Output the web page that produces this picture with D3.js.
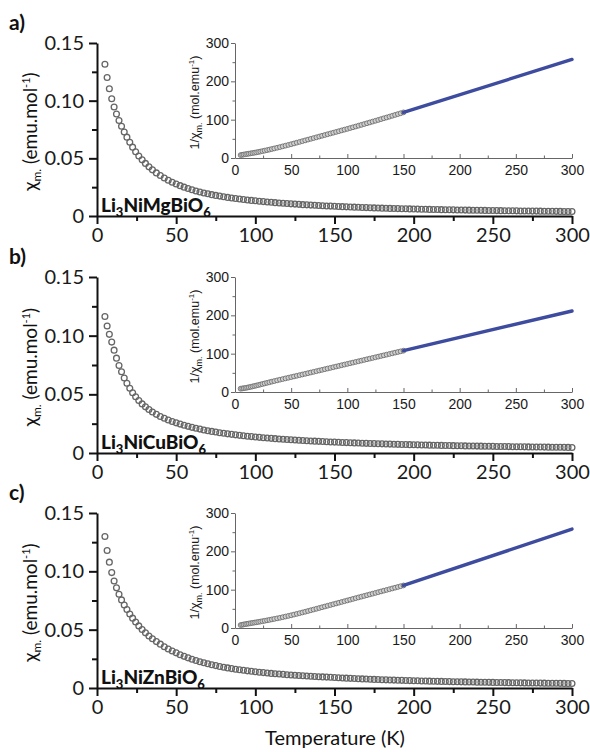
<!DOCTYPE html>
<html><head><meta charset="utf-8">
<script src="https://cdn.jsdelivr.net/npm/d3@7/dist/d3.min.js"></script>
<style>body{margin:0;background:#fff}svg{display:block}</style>
</head><body>
<svg id="chart" width="590" height="752"></svg>
<script>
// ---------- data ----------
const temperatures = [5,6.4,7.8,9.3,10.8,12.3,13.9,15.5,17.2,18.9,20.7,22.5,24.4,26.4,28.5,30.6,32.8,35,37.5,40,
42.5,45,47.5,50,52.5,55,57.5,60,62.5,65,67.5,70,72.5,75,77.5,80,82.5,85,87.5,90,92.5,95,97.5,100,
102.5,105,107.5,110,112.5,115,117.5,120,122.5,125,127.5,130,132.5,135,137.5,140,142.5,145,147.5,150,
152.5,155,157.5,160,162.5,165,167.5,170,172.5,175,177.5,180,182.5,185,187.5,190,192.5,195,197.5,200,
202.5,205,207.5,210,212.5,215,217.5,220,222.5,225,227.5,230,232.5,235,237.5,240,242.5,245,247.5,250,
252.5,255,257.5,260,262.5,265,267.5,270,272.5,275,277.5,280,282.5,285,287.5,290,292.5,295,297.5,300];

const chiMg = [0.13158,0.12005,0.11038,0.10163,0.09452,0.08850,0.08285,0.07776,0.07278,0.06835,0.06398,0.05970,0.05577,0.05208,0.04869,0.04562,0.04263,0.04000,0.03738,0.03509,
0.03292,0.03101,0.02930,0.02778,0.02632,0.02500,0.02381,0.02273,0.02174,0.02083,0.02000,0.01923,0.01852,0.01786,0.01724,0.01667,0.01613,0.01563,0.01515,0.01471,0.01429,0.01389,0.01351,0.01316,
0.01280,0.01248,0.01217,0.01186,0.01157,0.01129,0.01103,0.01078,0.01053,0.01030,0.01008,0.00986,0.00965,0.00946,0.00927,0.00908,0.00890,0.00873,0.00857,0.00840,
0.00824,0.00809,0.00794,0.00780,0.00766,0.00753,0.00740,0.00728,0.00716,0.00704,0.00693,0.00682,0.00672,0.00661,0.00651,0.00642,0.00633,0.00623,0.00615,0.00606,
0.00598,0.00590,0.00582,0.00574,0.00567,0.00559,0.00552,0.00545,0.00539,0.00532,0.00525,0.00519,0.00513,0.00507,0.00501,0.00496,0.00490,0.00484,0.00479,0.00474,
0.00469,0.00464,0.00459,0.00454,0.00449,0.00445,0.00440,0.00436,0.00432,0.00427,0.00423,0.00419,0.00415,0.00411,0.00407,0.00404,0.00400,0.00396,0.00393,0.00389];

const chiCu = [0.11628,0.10823,0.10111,0.09452,0.08764,0.08084,0.07463,0.06920,0.06394,0.05942,0.05519,0.05141,0.04794,0.04476,0.04186,0.03932,0.03701,0.03497,0.03295,0.03115,
0.02959,0.02817,0.02688,0.02571,0.02463,0.02364,0.02273,0.02188,0.02108,0.02035,0.01965,0.01901,0.01841,0.01784,0.01731,0.01681,0.01633,0.01589,0.01546,0.01506,0.01468,0.01432,0.01397,0.01364,
0.01333,0.01303,0.01274,0.01247,0.01221,0.01195,0.01171,0.01148,0.01126,0.01104,0.01084,0.01064,0.01045,0.01026,0.01008,0.00991,0.00974,0.00958,0.00943,0.00928,
0.00913,0.00899,0.00885,0.00872,0.00859,0.00846,0.00834,0.00822,0.00811,0.00800,0.00789,0.00778,0.00768,0.00758,0.00748,0.00739,0.00729,0.00720,0.00711,0.00703,
0.00694,0.00686,0.00678,0.00670,0.00663,0.00655,0.00648,0.00641,0.00634,0.00627,0.00620,0.00613,0.00607,0.00601,0.00595,0.00589,0.00583,0.00577,0.00571,0.00566,
0.00560,0.00555,0.00550,0.00544,0.00539,0.00534,0.00529,0.00525,0.00520,0.00515,0.00511,0.00506,0.00502,0.00498,0.00493,0.00489,0.00485,0.00481,0.00477,0.00473];

const chiZn = [0.12987,0.11792,0.10788,0.09891,0.09174,0.08584,0.08032,0.07553,0.07112,0.06725,0.06345,0.05988,0.05653,0.05325,0.05010,0.04728,0.04460,0.04219,0.03976,0.03759,
0.03540,0.03344,0.03170,0.03012,0.02855,0.02714,0.02585,0.02469,0.02357,0.02255,0.02161,0.02075,0.01993,0.01918,0.01847,0.01783,0.01722,0.01665,0.01612,0.01563,0.01516,0.01472,0.01430,0.01391,
0.01354,0.01318,0.01285,0.01253,0.01223,0.01195,0.01168,0.01142,0.01117,0.01093,0.01070,0.01048,0.01027,0.01007,0.00988,0.00969,0.00951,0.00934,0.00917,0.00901,
0.00881,0.00863,0.00845,0.00828,0.00811,0.00796,0.00780,0.00766,0.00752,0.00738,0.00725,0.00712,0.00700,0.00688,0.00677,0.00666,0.00655,0.00645,0.00635,0.00625,
0.00616,0.00606,0.00598,0.00589,0.00581,0.00572,0.00565,0.00557,0.00549,0.00542,0.00535,0.00528,0.00521,0.00515,0.00508,0.00502,0.00496,0.00490,0.00484,0.00478,
0.00473,0.00468,0.00462,0.00457,0.00452,0.00447,0.00442,0.00437,0.00433,0.00428,0.00424,0.00419,0.00415,0.00411,0.00407,0.00403,0.00399,0.00395,0.00391,0.00388];

// Curie-Weiss linear fits of 1/chi (150-300 K)
const fitT = [150, 300];
const fitMg = [119, 257];
const fitCu = [107.8, 211.3];
const fitZn = [111, 258];

const panelLetters = ["a)", "b)", "c)"];
const metals = ["Mg", "Cu", "Zn"];
const insetMaxT = 150;

const mainXTicks = [0, 50, 100, 150, 200, 250, 300];
const mainXMinor = [25, 75, 125, 175, 225, 275];
const mainYTicks = [0, 0.05, 0.10, 0.15];
const mainYTickLabels = ["0", "0.05", "0.10", "0.15"];
const mainYMinor = [0.025, 0.075, 0.125];
const insetXTicks = [0, 50, 100, 150, 200, 250, 300];
const insetXMinor = [25, 75, 125, 175, 225, 275];
const insetYTicks = [0, 100, 200, 300];
const insetYMinor = [50, 150, 250];

const xLabel = "Temperature (K)";

// ---------- layout ----------
const layout = [
  {top: 43, bottom: 216},
  {top: 277, bottom: 453},
  {top: 513, bottom: 688}
];
const insetH = 115;
const MAIN_FONT = "Lato, 'Open Sans', sans-serif";
const INSET_FONT = "'Liberation Sans', Arial, sans-serif";

const svg = d3.select("#chart");
const x = d3.scaleLinear().domain([0, 300]).range([97, 572]);
const xi = d3.scaleLinear().domain([0, 300]).range([235, 572]);

const series = [chiMg, chiCu, chiZn];
const fits = [fitMg, fitCu, fitZn];

function styleAxis(g, color, width, font, size) {
  g.select(".domain").attr("stroke", color).attr("stroke-width", width);
  g.selectAll(".tick line").attr("stroke", color).attr("stroke-width", width);
  g.selectAll(".tick text").attr("fill", "#1a1a1a").style("font-family", font).style("font-size", size + "px");
}

layout.forEach((L, i) => {
  const chi = series[i];
  const pts = temperatures.map((t, k) => ({t, v: chi[k]}));
  const y = d3.scaleLinear().domain([0, 0.15]).range([L.bottom, L.top]);
  const g = svg.append("g");

  // panel letter
  g.append("text").attr("x", 9).attr("y", L.top - 13)
    .style("font-family", MAIN_FONT).style("font-weight", "bold").style("font-size", "21px")
    .attr("fill", "#111").text(panelLetters[i]);

  // compound label
  const lab = g.append("text").attr("x", 101).attr("y", L.bottom - 4)
    .style("font-family", MAIN_FONT).style("font-weight", "900").style("font-size", "19px").attr("fill", "#111");
  lab.append("tspan").text("Li");
  lab.append("tspan").attr("dy", 5).style("font-size", "13px").text("3");
  lab.append("tspan").attr("dy", -5).text("Ni" + metals[i] + "BiO");
  lab.append("tspan").attr("dy", 5).style("font-size", "13px").text("6");

  // data circles
  g.append("g").selectAll("circle").data(pts).join("circle")
    .attr("cx", d => x(d.t)).attr("cy", d => y(d.v)).attr("r", 2.9)
    .attr("fill", "none").attr("stroke", "#666").attr("stroke-width", 1.3);

  // main axes
  const ax = g.append("g").attr("transform", `translate(0,${L.bottom})`)
    .call(d3.axisBottom(x).tickValues(mainXTicks).tickFormat(d3.format("d")).tickSize(8).tickSizeOuter(0).tickPadding(4));
  styleAxis(ax, "#111", 2, MAIN_FONT, 20);
  const axm = g.append("g").attr("transform", `translate(0,${L.bottom})`)
    .call(d3.axisBottom(x).tickValues(mainXMinor).tickFormat("").tickSize(5).tickSizeOuter(0));
  axm.select(".domain").remove();
  axm.selectAll(".tick line").attr("stroke", "#111").attr("stroke-width", 2);

  const ay = g.append("g").attr("transform", `translate(${x(0)},0)`)
    .call(d3.axisLeft(y).tickValues(mainYTicks).tickFormat((d, k) => mainYTickLabels[k]).tickSize(8).tickSizeOuter(0).tickPadding(5));
  styleAxis(ay, "#111", 2, MAIN_FONT, 20);
  const aym = g.append("g").attr("transform", `translate(${x(0)},0)`)
    .call(d3.axisLeft(y).tickValues(mainYMinor).tickFormat("").tickSize(5).tickSizeOuter(0));
  aym.select(".domain").remove();
  aym.selectAll(".tick line").attr("stroke", "#111").attr("stroke-width", 2);

  // main y label
  const yl = g.append("text")
    .attr("transform", `translate(37,${(L.top + L.bottom) / 2 + 2}) rotate(-90)`)
    .attr("text-anchor", "middle").style("font-family", MAIN_FONT).style("font-size", "19px").attr("fill", "#111");
  yl.append("tspan").text("χ");
  yl.append("tspan").attr("dy", 4).style("font-size", "12px").text("m.");
  yl.append("tspan").attr("dy", -4).text(" (emu.mol");
  yl.append("tspan").attr("dy", -7).style("font-size", "11px").text("-1");
  yl.append("tspan").attr("dy", 7).text(")");

  // ---------- inset ----------
  const yi = d3.scaleLinear().domain([0, 300]).range([L.top + insetH, L.top]);
  const ipts = pts.filter(d => d.t <= insetMaxT);
  g.append("g").selectAll("circle").data(ipts).join("circle")
    .attr("cx", d => xi(d.t)).attr("cy", d => yi(1 / d.v)).attr("r", 2.4)
    .attr("fill", "#cfcfcf").attr("stroke", "#6f6f6f").attr("stroke-width", 0.9);

  const fitPts = fitT.map((t, k) => [t, fits[i][k]]);
  g.append("path").datum(fitPts)
    .attr("d", d3.line().x(d => xi(d[0])).y(d => yi(d[1])))
    .attr("fill", "none").attr("stroke", "#3d4c9e").attr("stroke-width", 3.4).attr("stroke-linecap", "round");

  const ix = g.append("g").attr("transform", `translate(0,${L.top + insetH})`)
    .call(d3.axisBottom(xi).tickValues(insetXTicks).tickFormat(d3.format("d")).tickSize(-4).tickSizeOuter(0).tickPadding(7));
  styleAxis(ix, "#666", 1, INSET_FONT, 14);
  const ixm = g.append("g").attr("transform", `translate(0,${L.top + insetH})`)
    .call(d3.axisBottom(xi).tickValues(insetXMinor).tickFormat("").tickSize(-2.5).tickSizeOuter(0));
  ixm.select(".domain").remove();
  ixm.selectAll(".tick line").attr("stroke", "#666");

  const iy = g.append("g").attr("transform", `translate(${xi(0)},0)`)
    .call(d3.axisLeft(yi).tickValues(insetYTicks).tickFormat(d3.format("d")).tickSize(4).tickSizeOuter(0).tickPadding(2));
  styleAxis(iy, "#666", 1, INSET_FONT, 14);
  const iym = g.append("g").attr("transform", `translate(${xi(0)},0)`)
    .call(d3.axisLeft(yi).tickValues(insetYMinor).tickFormat("").tickSize(2.5).tickSizeOuter(0));
  iym.select(".domain").remove();
  iym.selectAll(".tick line").attr("stroke", "#666");

  const il = g.append("text")
    .attr("transform", `translate(199,${L.top + insetH / 2 + 2}) rotate(-90)`)
    .attr("text-anchor", "middle").style("font-family", INSET_FONT).style("font-size", "12.5px").attr("fill", "#1a1a1a");
  il.append("tspan").text("1/χ");
  il.append("tspan").attr("dy", 3).style("font-size", "9px").text("m.");
  il.append("tspan").attr("dy", -3).text(" (mol.emu");
  il.append("tspan").attr("dy", -5).style("font-size", "8px").text("-1");
  il.append("tspan").attr("dy", 5).text(")");
});

// x axis title
svg.append("text").attr("x", 335).attr("y", 745).attr("text-anchor", "middle")
  .style("font-family", MAIN_FONT).style("font-size", "20px").attr("fill", "#111").text(xLabel);
</script>
</body></html>
